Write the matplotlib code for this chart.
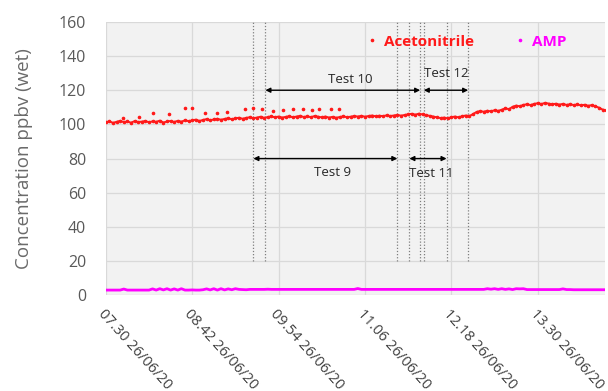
import numpy as np
import matplotlib
matplotlib.use("Agg")
import matplotlib.pyplot as plt
import matplotlib.dates as mdates
from matplotlib.lines import Line2D
import pandas as pd

# Sampling start and 3-minute grid (minutes after start)
START = pd.Timestamp("2020-06-26 07:30")
SAMPLE_MIN = np.arange(0, 420, 3)

# Acetonitrile, ppbv (wet), one value per 3 minutes
ACETONITRILE = [
    101.2, 101.8, 100.9, 101.5, 102.1, 101.3, 101.7, 101.0, 101.9, 101.4,
    101.6, 102.0, 101.2, 101.8, 101.5, 102.2, 101.1, 101.7, 102.0, 101.4,
    102.1, 101.6, 102.4, 101.9, 102.3, 102.8, 102.0, 102.6, 103.1, 102.4,
    102.9, 103.3, 102.7, 103.2, 103.6, 103.0, 103.5, 103.9, 103.3, 103.8,
    104.2, 103.6, 104.0, 104.5, 103.8, 104.3, 104.7, 104.1, 104.6, 104.0,
    104.4, 104.8, 104.1, 104.6, 105.0, 104.3, 104.7, 104.2, 104.9, 104.5,
    104.1, 104.6, 104.0, 104.4, 103.9, 104.3, 104.7, 104.2, 104.5, 104.9,
    104.6, 105.0, 104.5, 104.9, 105.2, 104.7, 105.1, 104.8, 105.3, 104.9,
    105.2, 105.6, 105.1, 105.5, 105.9, 106.2, 105.7, 106.3, 105.8, 105.4,
    105.0, 104.6, 104.1, 103.7, 104.0, 103.5, 104.2, 104.6, 104.1, 104.8,
    105.2, 104.9, 106.0, 107.3, 107.8, 107.4, 108.0, 107.6, 108.3, 107.9,
    108.6, 109.4, 108.9, 110.3, 111.0, 110.6, 111.4, 111.8, 111.3, 112.0,
    112.4, 111.9, 112.6, 112.2, 111.7, 112.1, 111.6, 112.0, 111.4, 111.8,
    111.3, 111.7, 111.1, 111.5, 110.9, 111.3, 110.6, 109.8, 108.7, 108.2,
]

# Scattered high readings of acetonitrile during the first half of the run
SPIKE_MIN = [14, 28, 39, 53, 66, 72, 83, 93, 101, 116,
             123, 130, 139, 148, 156, 164, 172, 178, 188, 194]
SPIKE_VAL = [104.0, 104.2, 106.5, 105.9, 109.4, 109.4, 106.5, 106.5, 107.0, 109.2,
             109.4, 109.3, 107.8, 108.5, 108.9, 108.8, 108.4, 109.2, 109.3, 109.3]

# AMP, ppbv (wet)
AMP = [
    3.0, 3.0, 3.0, 3.0, 3.0, 3.6, 3.0, 3.0, 3.0, 3.0,
    3.0, 3.0, 3.0, 3.7, 3.0, 3.8, 3.1, 3.8, 3.0, 3.7,
    3.0, 3.8, 3.0, 3.0, 3.1, 3.0, 3.0, 3.2, 3.7, 3.1,
    3.8, 3.0, 3.8, 3.1, 3.7, 3.2, 3.8, 3.4, 3.3, 3.2,
    3.4, 3.4, 3.4, 3.4, 3.4, 3.5, 3.4, 3.4, 3.4, 3.4,
    3.4, 3.4, 3.4, 3.4, 3.4, 3.4, 3.4, 3.4, 3.4, 3.4,
    3.4, 3.4, 3.4, 3.4, 3.4, 3.4, 3.4, 3.4, 3.4, 3.4,
    3.9, 3.4, 3.4, 3.4, 3.4, 3.4, 3.4, 3.4, 3.4, 3.4,
    3.4, 3.4, 3.4, 3.4, 3.4, 3.4, 3.4, 3.4, 3.4, 3.4,
    3.4, 3.4, 3.4, 3.4, 3.4, 3.4, 3.4, 3.4, 3.4, 3.4,
    3.4, 3.4, 3.4, 3.4, 3.4, 3.4, 3.8, 3.5, 3.8, 3.4,
    3.8, 3.4, 3.7, 3.3, 3.8, 3.7, 3.8, 3.3, 3.3, 3.3,
    3.3, 3.3, 3.3, 3.3, 3.3, 3.3, 3.3, 3.7, 3.3, 3.3,
    3.2, 3.2, 3.2, 3.2, 3.2, 3.2, 3.2, 3.2, 3.2, 3.2,
]

# Test windows: start / end minute, arrow level, label
TEST_NAMES = ["Test 9", "Test 10", "Test 11", "Test 12"]
TEST_START = [123, 133, 253, 265]
TEST_END = [243, 262, 284, 302]
TEST_LEVEL = [80, 120, 80, 120]
TEST_LABEL_Y = [72, 126, 71, 130]
TEST_LABEL_DX = [6, 6, 3, 0]

TICK_STEP_MIN = 72
AXIS_END_MIN = 416


def to_time(minutes):
    return START + pd.to_timedelta(np.asarray(minutes), unit="min")


def main():
    plt.rcParams["font.family"] = ["Open Sans", "DejaVu Sans"]

    fig = plt.figure(figsize=(6.08, 3.91), dpi=100)
    ax = fig.add_axes([0.174, 0.245, 0.821, 0.699])
    ax.set_facecolor("#f2f2f2")

    t = to_time(SAMPLE_MIN)
    red = "#ff1a1a"
    magenta = "#ff00ff"

    ax.plot(t, AMP, color=magenta, lw=2.0, zorder=3)
    ax.plot(t, ACETONITRILE, color=red, lw=1.4, zorder=4)
    ax.plot(t, ACETONITRILE, ls="none", marker="o", ms=1.6, color=red, zorder=4)
    ax.plot(to_time(SPIKE_MIN), SPIKE_VAL, ls="none", marker="o", ms=1.6,
            color=red, zorder=4)

    # Test windows: dotted boundaries and double-headed arrows
    for name, s, e, lvl, ly, dx in zip(TEST_NAMES, TEST_START, TEST_END,
                                       TEST_LEVEL, TEST_LABEL_Y, TEST_LABEL_DX):
        ts, te = to_time([s, e])
        for tx in (ts, te):
            ax.plot([tx, tx], [20, 160], color="#7f7f7f", ls=(0, (1, 1.5)),
                    lw=0.9, zorder=2)
        ax.annotate("", xy=(te, lvl), xytext=(ts, lvl),
                    arrowprops=dict(arrowstyle="<|-|>", color="black", lw=1.0,
                                    mutation_scale=7, shrinkA=0, shrinkB=0),
                    zorder=5)
        mid = to_time([(s + e) / 2 + dx])[0]
        ax.text(mid, ly, name, ha="center", va="center", fontsize=9.5,
                color="#262626", zorder=5)

    ax.set_ylim(0, 160)
    ax.set_yticks(range(0, 161, 20))
    ax.set_xlim(to_time([0])[0], to_time([AXIS_END_MIN])[0])
    ticks = to_time(np.arange(0, AXIS_END_MIN, TICK_STEP_MIN))
    ax.set_xticks(ticks)
    ax.xaxis.set_major_formatter(mdates.DateFormatter("%H.%M %d/%m/%y"))
    for lab in ax.get_xticklabels():
        lab.set_rotation(-48)
        lab.set_ha("left")
        lab.set_va("top")
        lab.set_rotation_mode("anchor")

    ax.grid(True, color="#d9d9d9", lw=0.9, zorder=0)
    ax.set_axisbelow(True)
    for sp in ax.spines.values():
        sp.set_visible(False)
    ax.tick_params(axis="both", length=0, colors="#595959", labelsize=11.5)
    ax.tick_params(axis="x", labelsize=10.5, colors="#404040", pad=8)
    ax.tick_params(axis="y", pad=14)

    ax.set_ylabel("Concentration ppbv (wet)", fontsize=13.5, color="#6a6a6a",
                  labelpad=19)

    handles = [
        Line2D([], [], ls="none", marker="o", ms=1.6, color=red),
        Line2D([], [], ls="none", marker="o", ms=1.6, color=magenta),
    ]
    leg = ax.legend(handles, ["Acetonitrile", "AMP"], ncol=2, frameon=False,
                    loc="upper right", bbox_to_anchor=(0.935, 0.975),
                    borderaxespad=0, prop={"weight": "bold", "size": 11},
                    handletextpad=0.4, handlelength=0.8, columnspacing=2.6)
    leg.get_texts()[0].set_color(red)
    leg.get_texts()[1].set_color(magenta)

    fig.savefig("out.png", dpi=100)


if __name__ == "__main__":
    main()
